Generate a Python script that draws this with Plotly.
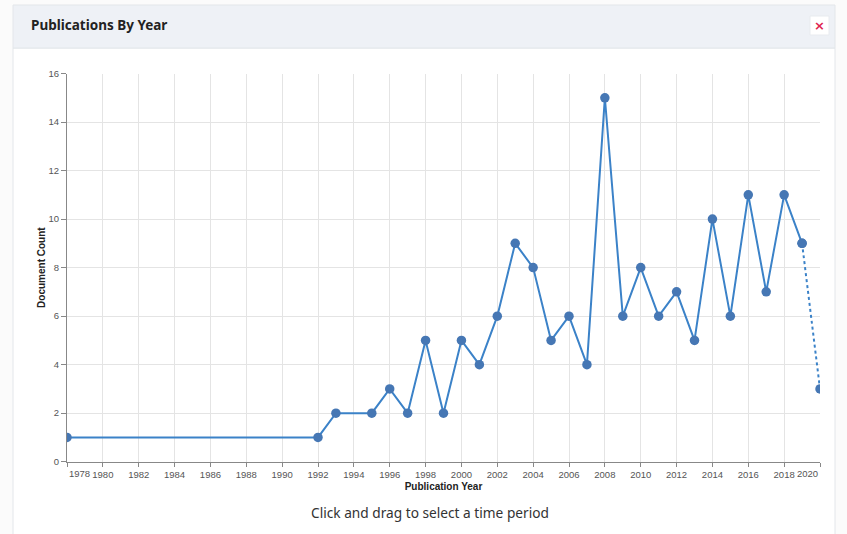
import plotly.graph_objects as go

# publication counts per year (gaps = years with no data point)
years = [1978, 1992, 1993, 1995, 1996, 1997, 1998, 1999, 2000, 2001, 2002, 2003,
         2004, 2005, 2006, 2007, 2008, 2009, 2010, 2011, 2012, 2013, 2014, 2015,
         2016, 2017, 2018, 2019, 2020]
counts = [1, 1, 2, 2, 3, 2, 5, 2, 5, 4, 6, 9,
          8, 5, 6, 4, 15, 6, 8, 6, 7, 5, 10, 6,
          11, 7, 11, 9, 3]
tick_years = list(range(1980, 2019, 2))
y_ticks = [0, 2, 4, 6, 8, 10, 12, 14, 16]

W, H = 847, 534
LINE = "#3b82c8"
DOT = "#4677b4"
AXIS_FONT = "Liberation Sans, Arial, sans-serif"
TICK_FONT = dict(family=AXIS_FONT, size=9.5, color="#555")


def px_x(p):
    return p / W


def px_y(p):
    # page-pixel -> paper coords (small vertical correction for the capture)
    return 1 - ((p - 5) / 0.979) / H


fig = go.Figure()

# solid line for complete years, dashed for the current (partial) year
fig.add_trace(go.Scatter(
    x=years[:-1], y=counts[:-1], mode="lines+markers",
    line=dict(color=LINE, width=2),
    marker=dict(color=DOT, size=9.5),
    hoverinfo="x+y", showlegend=False,
))
fig.add_trace(go.Scatter(
    x=years[-2:], y=counts[-2:], mode="lines+markers",
    line=dict(color=LINE, width=2, dash="dot"),
    marker=dict(color=DOT, size=9.5),
    hoverinfo="x+y", showlegend=False,
))

fig.update_xaxes(
    domain=[px_x(67), px_x(820)],
    range=[years[0], years[-1]],
    tickvals=[years[0]] + tick_years + [years[-1]],
    ticktext=[""] + [str(t) for t in tick_years] + [""],
    tickfont=TICK_FONT,
    ticks="outside", ticklen=4, tickcolor="#888",
    showline=True, linecolor="#888", linewidth=1,
    showgrid=True, gridcolor="#e4e4e4", zeroline=False,
    title=dict(text="<b>Publication Year</b>", standoff=3,
               font=dict(family=AXIS_FONT, size=10, color="#222")),
    fixedrange=True,
)
fig.update_yaxes(
    domain=[px_y(460.5), px_y(72.5)],
    range=[0, 16],
    tickvals=y_ticks,
    tickfont=TICK_FONT,
    ticks="outside", ticklen=5, tickcolor="#888",
    showline=True, linecolor="#888", linewidth=1,
    showgrid=True, gridcolor="#e4e4e4", zeroline=False,
    title=dict(text="<b>Document Count</b>", standoff=1,
               font=dict(family=AXIS_FONT, size=10, color="#222")),
    fixedrange=True,
)

# flush first/last year labels inside the axis range
for yr, anchor in [(years[0], "left"), (years[-1], "right")]:
    fig.add_annotation(
        x=yr, y=0, xref="x", yref="y", text=str(yr), showarrow=False,
        xanchor=anchor, yanchor="top", yshift=-4, font=TICK_FONT,
    )

# card panel: header strip + body
fig.add_shape(type="rect", xref="paper", yref="paper",
              x0=px_x(13), x1=px_x(835), y0=px_y(545), y1=px_y(47),
              line=dict(color="#e3e6ea", width=1), fillcolor="white", layer="below")
fig.add_shape(type="rect", xref="paper", yref="paper",
              x0=px_x(13), x1=px_x(835), y0=px_y(47), y1=px_y(4),
              line=dict(color="#e3e6ea", width=1), fillcolor="#eef1f6", layer="below")
# close button
fig.add_shape(type="rect", xref="paper", yref="paper",
              x0=px_x(810), x1=px_x(829), y0=px_y(34), y1=px_y(15),
              line=dict(color="#e8ebef", width=1), fillcolor="white", layer="below")
fig.add_annotation(x=px_x(819.5), y=px_y(24.5), xref="paper", yref="paper",
                   text="<b>×</b>", showarrow=False, xanchor="center", yanchor="middle",
                   font=dict(family="DejaVu Sans, sans-serif", size=13, color="#e0244f"))

fig.add_annotation(x=px_x(29), y=px_y(24), xref="paper", yref="paper",
                   text="<b>Publications By Year</b>", showarrow=False,
                   xanchor="left", yanchor="middle",
                   font=dict(family="Noto Sans, Open Sans, sans-serif", size=13.5, color="#222"))
fig.add_annotation(x=px_x(430), y=px_y(511), xref="paper", yref="paper",
                   text="Click and drag to select a time period", showarrow=False,
                   xanchor="center", yanchor="middle",
                   font=dict(family="Noto Sans, Open Sans, sans-serif", size=13.7, color="#333"))

fig.update_layout(
    width=W, height=H,
    margin=dict(l=0, r=0, t=0, b=0),
    paper_bgcolor="#fbfbfb",
    plot_bgcolor="white",
    hovermode="closest",
    dragmode="select",
)

fig.write_html("out.html", config={"displayModeBar": False},
               post_script="document.body.style.margin='0';document.body.style.overflow='hidden';")
